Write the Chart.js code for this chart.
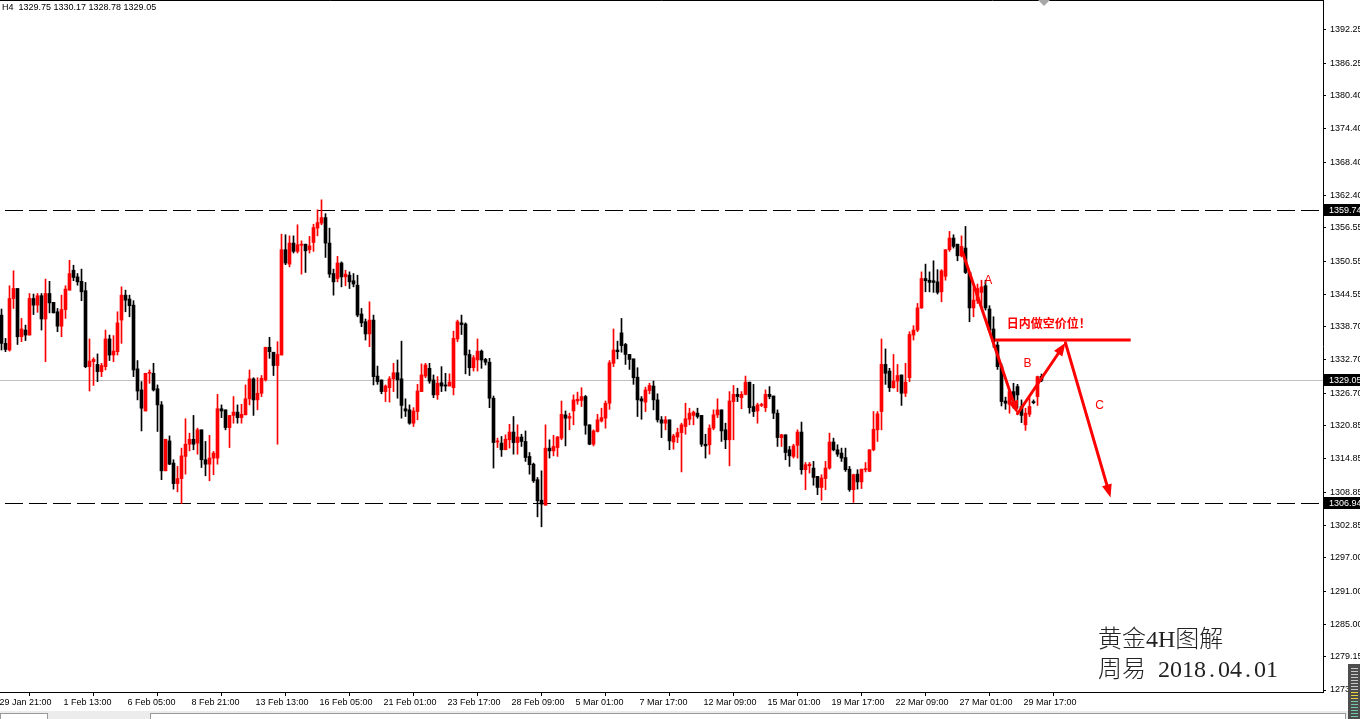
<!DOCTYPE html>
<html>
<head>
<meta charset="utf-8">
<script src="https://cdn.jsdelivr.net/npm/chart.js@4.4.1/dist/chart.umd.min.js"></script>
<style>
  html, body { margin: 0; padding: 0; background: #fff; overflow: hidden; }
  #wrap { width: 1360px; height: 719px; position: relative; }
</style>
</head>
<body>
<div id="wrap"><canvas id="chart"></canvas></div>
<script>
// XAUUSD H4, one value per bar (bar 0 = leftmost visible)
const opens = [
  1340.8,1335.7,1334.5,1343.8,1345.6,1336.9,1338.1,1337.2,1343.8,1342.6,1344.3,1340.1,1344.7,1343.1,1341.4,1338.8,1341.8,1345.3,1348.9,1347.7,
  1346.9,1345.2,1331.5,1332.4,1331.9,1330.6,1331.5,1336.5,1333.6,1334.2,1339.9,1344.4,1343.7,1342.6,1331.1,1327.3,1323.5,1330.3,1330.3,1327.5,
  1324.6,1312.7,1318.1,1314.1,1310.4,1311.3,1315.3,1317.5,1318.4,1317.7,1320.1,1314.7,1313.9,1315.0,1315.0,1323.9,1323.7,1320.5,1322.7,1323.3,
  1322.3,1322.8,1325.7,1329.3,1325.5,1326.7,1329.1,1335.0,1334.1,1331.7,1333.6,1352.6,1350.0,1353.8,1352.3,1353.4,1353.6,1352.6,1353.9,1356.5,
  1357.4,1358.4,1353.8,1348.3,1347.4,1350.2,1347.7,1348.0,1347.0,1346.2,1341.0,1339.6,1337.4,1339.9,1329.8,1329.1,1327.0,1327.7,1329.3,1330.4,
  1329.3,1323.9,1323.7,1321.3,1323.4,1327.0,1329.8,1331.2,1329.1,1326.4,1328.6,1328.2,1328.0,1327.7,1336.5,1339.4,1339.2,1333.7,1331.3,1332.7,
  1334.3,1332.8,1332.3,1325.8,1317.9,1317.7,1316.5,1318.3,1319.7,1317.8,1318.8,1318.0,1315.3,1313.9,1311.1,1307.4,1306.5,1316.8,1316.3,1316.9,
  1318.6,1322.8,1322.2,1323.5,1325.3,1325.4,1326.1,1321.0,1317.5,1319.8,1321.7,1322.2,1324.9,1332.1,1334.5,1337.6,1335.5,1333.7,1332.9,1329.6,
  1325.7,1325.1,1327.2,1328.0,1325.5,1321.9,1321.3,1321.9,1317.9,1318.8,1319.6,1320.7,1322.0,1322.7,1323.1,1322.7,1317.5,1317.4,1320.4,1322.8,
  1323.7,1320.1,1318.3,1325.2,1326.5,1325.9,1326.5,1328.7,1324.3,1323.5,1324.5,1324.1,1326.5,1326.2,1323.1,1318.7,1319.2,1316.5,1315.3,1317.3,
  1319.7,1312.9,1313.6,1313.2,1311.7,1309.7,1311.3,1313.2,1317.9,1316.5,1315.9,1315.1,1313.0,1309.3,1312.1,1310.7,1312.9,1312.6,1316.5,1320.1,
  1323.4,1331.9,1330.7,1327.7,1328.9,1330.0,1326.7,1329.5,1337.2,1338.1,1342.1,1347.4,1347.1,1347.0,1346.8,1345.0,1347.8,1352.6,1354.7,1353.6,
  1351.5,1352.9,1348.5,1342.1,1343.4,1344.9,1346.1,1341.9,1338.3,1335.4,1331.5,1325.3,1324.7,1327.0,1327.9,1324.3,1321.0,1322.9,1325.2,1326.1,
  1329.75
];
const highs = [
  1341.9,1336.6,1346.1,1348.8,1345.6,1340.2,1339.0,1344.7,1344.6,1344.7,1344.7,1347.3,1346.9,1343.1,1342.0,1344.4,1346.1,1350.7,1349.8,1348.3,
  1349.1,1346.7,1336.5,1333.1,1333.8,1332.1,1338.1,1337.2,1337.1,1341.4,1345.9,1345.3,1344.4,1343.4,1332.6,1328.8,1330.3,1330.9,1332.1,1328.2,
  1325.2,1318.4,1319.0,1314.7,1313.5,1316.8,1322.1,1319.5,1322.7,1320.4,1320.1,1318.0,1319.1,1316.2,1326.5,1324.6,1323.7,1322.7,1326.1,1324.6,
  1324.7,1328.2,1330.9,1329.5,1329.5,1329.9,1335.0,1336.8,1334.1,1336.0,1355.4,1355.3,1355.1,1355.1,1357.1,1354.2,1353.6,1355.0,1357.2,1359.8,
  1361.6,1359.1,1356.5,1349.1,1351.4,1350.4,1348.9,1348.6,1348.3,1348.0,1342.0,1340.1,1343.2,1340.8,1331.6,1329.1,1328.2,1329.7,1332.1,1332.7,
  1336.1,1325.7,1324.6,1324.1,1328.3,1332.0,1332.1,1332.1,1330.0,1329.7,1331.5,1330.3,1330.2,1337.9,1339.9,1340.8,1339.4,1334.5,1333.5,1336.5,
  1334.5,1333.0,1333.0,1326.2,1318.6,1318.9,1319.2,1321.1,1322.5,1321.0,1319.3,1319.9,1316.0,1314.1,1311.5,1312.7,1321.0,1318.3,1319.1,1318.9,
  1325.3,1323.5,1323.1,1326.4,1326.9,1327.7,1326.3,1321.0,1320.1,1322.9,1324.0,1325.3,1332.6,1338.3,1336.1,1340.2,1335.7,1333.7,1332.9,1331.3,
  1326.1,1327.8,1328.5,1328.9,1326.6,1322.5,1322.5,1321.9,1319.3,1320.4,1321.3,1324.9,1324.0,1323.5,1324.0,1322.7,1319.3,1321.0,1323.7,1325.7,
  1323.7,1321.3,1327.0,1328.1,1327.6,1327.0,1329.8,1328.7,1328.3,1324.9,1324.9,1327.3,1327.9,1326.2,1323.7,1319.3,1319.2,1317.1,1317.5,1320.1,
  1321.5,1314.2,1314.2,1314.4,1311.7,1312.0,1314.4,1319.5,1318.6,1317.4,1316.8,1316.8,1313.5,1312.1,1312.9,1313.0,1314.2,1316.5,1323.4,1323.4,
  1336.5,1334.7,1331.2,1333.7,1331.9,1330.0,1332.1,1337.8,1338.9,1342.9,1348.6,1350.0,1348.6,1350.6,1349.0,1349.0,1352.6,1355.9,1355.3,1353.6,
  1355.1,1356.8,1348.5,1345.9,1346.4,1347.1,1347.1,1342.5,1340.5,1336.0,1332.0,1326.0,1327.3,1328.5,1328.3,1325.5,1324.0,1326.0,1325.5,1329.8,
  1330.17
];
const lows = [
  1334.5,1334.2,1334.3,1342.0,1335.5,1336.0,1336.2,1337.2,1340.9,1341.3,1338.1,1332.4,1341.2,1341.2,1337.8,1336.9,1340.2,1345.3,1347.0,1346.2,
  1343.4,1331.3,1327.1,1328.1,1328.8,1329.7,1330.9,1332.6,1332.4,1333.6,1335.7,1341.4,1340.5,1329.7,1325.5,1319.9,1323.5,1328.5,1327.1,1319.8,
  1311.1,1312.7,1313.8,1309.4,1308.9,1306.8,1312.1,1316.3,1316.5,1315.7,1313.3,1311.8,1310.9,1312.0,1313.9,1322.3,1320.1,1316.9,1321.3,1321.3,
  1321.3,1322.8,1324.6,1322.7,1323.7,1326.1,1328.9,1333.0,1329.9,1317.5,1333.6,1349.9,1349.5,1352.0,1352.0,1348.2,1348.5,1352.0,1352.3,1355.1,
  1357.1,1351.2,1347.6,1344.4,1346.8,1345.9,1346.1,1345.6,1345.9,1340.5,1338.7,1336.3,1335.1,1328.2,1328.3,1326.6,1325.2,1325.1,1327.0,1325.8,
  1322.2,1322.5,1321.1,1320.7,1321.9,1327.0,1329.5,1328.5,1325.9,1325.6,1327.0,1327.1,1328.0,1326.4,1336.0,1337.3,1330.2,1329.9,1330.7,1330.7,
  1331.2,1331.8,1324.1,1313.2,1316.9,1315.3,1316.5,1316.8,1315.7,1315.7,1317.1,1314.4,1312.1,1310.6,1304.4,1302.6,1306.5,1315.0,1315.4,1315.3,
  1318.3,1317.2,1320.1,1321.0,1324.7,1324.3,1319.3,1317.4,1317.2,1319.7,1321.5,1320.4,1323.8,1331.5,1332.9,1334.1,1331.9,1331.0,1328.3,1322.5,
  1322.0,1323.4,1326.6,1323.7,1321.5,1318.7,1320.1,1316.5,1316.6,1317.8,1312.5,1319.3,1321.0,1321.0,1322.2,1317.1,1315.0,1315.7,1320.1,1322.3,
  1318.0,1316.7,1313.6,1318.3,1325.2,1323.9,1326.4,1323.1,1322.5,1321.3,1324.3,1323.4,1325.7,1322.1,1317.1,1317.1,1314.7,1313.5,1315.0,1315.0,
  1312.1,1309.3,1312.3,1310.1,1308.4,1307.4,1309.3,1313.0,1316.3,1315.3,1314.4,1312.6,1309.0,1307.0,1309.4,1309.5,1312.5,1312.6,1316.3,1318.0,
  1320.1,1328.3,1327.0,1327.6,1327.0,1324.5,1326.1,1328.8,1336.3,1337.8,1342.0,1345.0,1345.0,1344.9,1344.6,1343.2,1347.1,1352.3,1352.9,1350.6,
  1351.3,1348.3,1339.6,1340.5,1342.9,1342.3,1341.7,1337.8,1335.0,1331.0,1324.4,1323.8,1323.1,1324.0,1324.0,1321.4,1320.0,1322.5,1324.8,1324.5,
  1328.78
];
const closes = [
  1335.7,1334.6,1343.8,1345.6,1336.9,1338.3,1337.2,1343.8,1342.6,1344.3,1340.1,1344.7,1343.0,1341.2,1338.8,1341.8,1345.5,1348.3,1347.6,1346.8,
  1345.0,1331.5,1332.5,1332.8,1330.6,1331.7,1336.5,1333.6,1334.3,1339.4,1344.4,1343.5,1342.5,1330.9,1327.1,1324.0,1330.3,1330.4,1327.3,1324.6,
  1312.7,1318.4,1313.9,1310.4,1311.3,1315.4,1317.5,1318.4,1317.5,1320.1,1314.7,1313.9,1315.0,1315.9,1323.9,1323.5,1320.5,1322.7,1323.3,1322.3,
  1322.9,1325.7,1329.3,1325.5,1326.7,1329.4,1335.0,1334.2,1331.7,1333.7,1352.6,1350.2,1353.8,1352.3,1353.5,1353.6,1352.4,1353.3,1356.6,1357.5,
  1358.4,1353.8,1348.2,1346.8,1350.2,1347.7,1348.2,1346.8,1346.4,1340.8,1339.4,1337.4,1339.9,1329.7,1328.8,1327.0,1328.0,1329.3,1330.4,1329.1,
  1324.5,1323.5,1321.3,1323.5,1327.1,1330.0,1331.8,1328.9,1326.4,1328.5,1328.0,1328.0,1328.7,1336.6,1339.6,1339.1,1333.6,1331.3,1333.1,1334.3,
  1332.7,1332.3,1325.8,1317.8,1318.1,1316.5,1318.4,1319.7,1317.8,1318.8,1318.0,1315.1,1313.8,1310.9,1307.3,1306.7,1316.8,1316.3,1317.1,1318.8,
  1322.9,1322.2,1322.5,1325.5,1325.6,1326.1,1320.9,1317.5,1319.9,1321.9,1322.3,1324.9,1332.2,1334.5,1334.2,1335.3,1333.7,1332.8,1329.5,1325.5,
  1325.3,1327.3,1328.1,1325.5,1321.9,1321.3,1321.9,1318.1,1319.0,1319.6,1321.0,1322.1,1323.1,1323.3,1322.5,1317.5,1317.2,1320.4,1322.8,1323.7,
  1319.9,1318.3,1325.3,1326.5,1326.1,1326.5,1328.7,1324.1,1323.4,1324.6,1324.6,1326.5,1326.1,1323.1,1318.7,1319.2,1316.0,1315.4,1317.2,1319.7,
  1312.9,1313.8,1313.9,1311.5,1309.7,1311.4,1313.2,1317.9,1316.5,1315.7,1315.0,1312.9,1309.3,1312.0,1310.7,1313.0,1313.1,1316.5,1320.2,1323.0,
  1331.9,1330.3,1327.7,1328.9,1329.9,1326.7,1328.7,1337.3,1338.1,1342.1,1347.4,1347.0,1346.7,1346.7,1344.9,1348.8,1352.6,1354.7,1353.2,1351.5,
  1353.2,1348.5,1342.1,1343.5,1345.6,1345.9,1342.1,1338.1,1336.0,1331.5,1325.2,1324.9,1327.0,1325.0,1326.4,1322.7,1323.1,1324.3,1325.0,1329.7,
  1329.05
];

// time axis labels and the bar each one sits on
const tickLabels = ['29 Jan 21:00','1 Feb 13:00','6 Feb 05:00','8 Feb 21:00','13 Feb 13:00','16 Feb 05:00','21 Feb 01:00',
  '23 Feb 17:00','28 Feb 09:00','5 Mar 01:00','7 Mar 17:00','12 Mar 09:00','15 Mar 01:00','19 Mar 17:00','22 Mar 09:00',
  '27 Mar 01:00','29 Mar 17:00'];
const tickBars = [-1,15,31,47,63,79,95,111,127,143,159,175,191,207,223,239,255];

const priceTicks = [1392.25,1386.25,1380.40,1374.40,1368.40,1362.40,1356.55,1350.55,1344.55,1338.70,1332.70,
  1326.70,1320.85,1314.85,1308.85,1302.85,1297.00,1291.00,1285.00,1279.15,1273.15];
const levelLines = [1359.74, 1306.94];
const lastPrice = 1329.05;
const headerText = 'H4  1329.75 1330.17 1328.78 1329.05';

// A-B-C drawing: bar index / price of each turn
const waveBars = [240.25, 254.0, 266.0, 277.25];
const wavePrices = [1352.2, 1323.0, 1335.8, 1307.9];
const shortPrice = 1336.3;
const shortBars = [248.3, 282.3];
const waveLetters = ['A', 'B', 'C'];
const waveLetterBars = [246.7, 256.5, 274.5];
const waveLetterPrices = [1347.0, 1332.0, 1324.5];

const upColor = '#ff0000';
const downColor = '#000000';
const colors = opens.map((o, i) => closes[i] >= o ? upColor : downColor);

const wickData = opens.map((o, i) => ({ x: i, y: [lows[i], highs[i]] }));
const bodyData = opens.map((o, i) => ({ x: i, y: [o, closes[i]] }));

function arrow(ctx, x0, y0, x1, y1) {
  const ang = Math.atan2(y1 - y0, x1 - x0);
  const len = 13, half = 5;
  ctx.beginPath();
  ctx.moveTo(x0, y0);
  ctx.lineTo(x1 - Math.cos(ang) * len * 0.6, y1 - Math.sin(ang) * len * 0.6);
  ctx.stroke();
  ctx.beginPath();
  ctx.moveTo(x1, y1);
  ctx.lineTo(x1 - Math.cos(ang) * len - Math.sin(ang) * half, y1 - Math.sin(ang) * len + Math.cos(ang) * half);
  ctx.lineTo(x1 - Math.cos(ang) * len + Math.sin(ang) * half, y1 - Math.sin(ang) * len - Math.cos(ang) * half);
  ctx.closePath();
  ctx.fill();
}

const overlay = {
  id: 'overlay',
  beforeDatasetsDraw(chart) {
    const { ctx, chartArea: a, scales: { x, y } } = chart;
    ctx.save();
    const py = Math.round(y.getPixelForValue(lastPrice)) + 0.5;
    ctx.strokeStyle = '#c0c0c0';
    ctx.lineWidth = 1;
    ctx.beginPath(); ctx.moveTo(a.left, py); ctx.lineTo(a.right, py); ctx.stroke();

    ctx.strokeStyle = '#000';
    ctx.setLineDash([18, 6]);
    levelLines.forEach(v => {
      const ly = Math.round(y.getPixelForValue(v)) + 0.5;
      ctx.beginPath(); ctx.moveTo(a.left + 5, ly); ctx.lineTo(a.right - 3, ly); ctx.stroke();
    });
    ctx.restore();
  },
  afterDatasetsDraw(chart) {
    const { ctx, scales: { x, y } } = chart;
    ctx.save();
    ctx.strokeStyle = '#ff0000';
    ctx.fillStyle = '#ff0000';
    ctx.lineWidth = 3;
    ctx.lineCap = 'round';
    const pts = waveBars.map((b, i) => [x.getPixelForValue(b), y.getPixelForValue(wavePrices[i])]);
    for (let i = 0; i < pts.length - 1; i++) arrow(ctx, pts[i][0], pts[i][1], pts[i + 1][0], pts[i + 1][1]);

    const sy = y.getPixelForValue(shortPrice);
    ctx.lineCap = 'butt';
    ctx.beginPath();
    ctx.moveTo(x.getPixelForValue(shortBars[0]), sy);
    ctx.lineTo(x.getPixelForValue(shortBars[1]), sy);
    ctx.stroke();

    ctx.font = 'bold 12px "Noto Sans CJK SC"';
    ctx.textBaseline = 'middle';
    ctx.textAlign = 'left';
    ctx.fillText('日内做空价位！', x.getPixelForValue(251.3), sy - 17);

    ctx.font = '12px "Liberation Sans"';
    ctx.textAlign = 'center';
    waveLetters.forEach((t, i) => {
      ctx.fillText(t, x.getPixelForValue(waveLetterBars[i]), y.getPixelForValue(waveLetterPrices[i]));
    });
    ctx.restore();
  },
  afterDraw(chart) {
    const { ctx, chartArea: a, scales: { y } } = chart;
    ctx.save();
    // top frame
    ctx.strokeStyle = '#000';
    ctx.lineWidth = 1;
    ctx.beginPath(); ctx.moveTo(0, 0.5); ctx.lineTo(a.right + 0.5, 0.5); ctx.stroke();

    // boxed price labels on the axis
    ctx.font = '9px "Liberation Sans"';
    ctx.textBaseline = 'middle';
    ctx.textAlign = 'left';
    [...levelLines, lastPrice].forEach(v => {
      const py = Math.round(y.getPixelForValue(v));
      ctx.fillStyle = '#000';
      ctx.fillRect(a.right + 1, py - 6, 40, 12);
      ctx.fillStyle = '#fff';
      ctx.fillText(v.toFixed(2), a.right + 6, py + 0.5);
    });

    // header
    ctx.fillStyle = '#000';
    ctx.textBaseline = 'top';
    ctx.fillText(headerText, 2, 3);

    // shift marker
    ctx.fillStyle = '#a8a8a8';
    ctx.beginPath(); ctx.moveTo(1038, 0); ctx.lineTo(1050, 0); ctx.lineTo(1044, 6); ctx.closePath(); ctx.fill();

    // caption
    ctx.fillStyle = '#222';
    ctx.textBaseline = 'alphabetic';
    ctx.font = '300 24px "Liberation Serif", "Noto Sans CJK SC"';
    ctx.fillText('黄金4H图解', 1098, 647);
    ctx.fillText('周易', 1098, 677);
    const d = '2018.04.01';
    ctx.textAlign = 'center';
    for (let i = 0; i < d.length; i++) ctx.fillText(d[i], 1164 + i * 12, 677);

    // tab strip
    ctx.textAlign = 'left';
    ctx.fillStyle = '#ececec';
    ctx.fillRect(0, 711, 1360, 8);
    ctx.fillStyle = '#fff';
    ctx.strokeStyle = '#9a9a9a';
    ctx.fillRect(0, 713, 47, 6); ctx.strokeRect(0.5, 713.5, 47, 7);
    ctx.fillRect(150, 713, 1195, 6); ctx.strokeRect(150.5, 713.5, 1195, 7);

    // corner widget
    ctx.fillStyle = '#4d4d4d';
    ctx.fillRect(1348, 664, 12, 55);
    for (let yy = 668; yy < 717; yy += 3) {
      ctx.fillStyle = yy < 690 ? '#c8c8c8' : (yy < 700 ? '#e8d040' : '#70c8a8');
      ctx.fillRect(1351, yy, 7, 1);
    }
    ctx.restore();
  }
};

Chart.defaults.font.family = '"Liberation Sans", Arial, sans-serif';
Chart.defaults.font.size = 9;
Chart.defaults.color = '#000';

new Chart(document.getElementById('chart'), {
  type: 'bar',
  data: {
    datasets: [
      {
        label: 'wick',
        data: wickData,
        backgroundColor: colors,
        barThickness: 1,
        grouped: false,
        order: 1
      },
      {
        label: 'body',
        data: bodyData,
        backgroundColor: colors,
        barThickness: 3,
        minBarLength: 1,
        grouped: false,
        order: 0
      }
    ]
  },
  options: {
    responsive: true,
    maintainAspectRatio: false,
    animation: false,
    devicePixelRatio: 1,
    layout: { padding: { left: 0, right: 0, top: 0, bottom: 7 } },
    plugins: { legend: { display: false }, tooltip: { enabled: false } },
    scales: {
      x: {
        type: 'linear',
        min: -0.375,
        max: 330.375,
        offset: false,
        grid: { display: true, drawOnChartArea: false, drawTicks: true, tickLength: 4, color: '#000' },
        border: { display: true, color: '#000' },
        ticks: {
          align: 'start',
          labelOffset: 2,
          padding: 1,
          maxRotation: 0,
          autoSkip: false,
          callback: (v, i) => tickLabels[i]
        },
        afterBuildTicks: s => { s.ticks = tickBars.map(v => ({ value: v })); },
        afterFit: s => { s.height = 20; s.paddingLeft = 0; s.paddingRight = 0; }
      },
      y: {
        position: 'right',
        min: 1272.79,
        max: 1397.66,
        grid: { display: true, drawOnChartArea: false, drawTicks: true, tickLength: 3, color: '#000' },
        border: { display: true, color: '#000' },
        ticks: {
          padding: 4,
          autoSkip: false,
          callback: v => v.toFixed(2)
        },
        afterBuildTicks: s => { s.ticks = priceTicks.map(v => ({ value: v })); },
        afterFit: s => { s.width = 37; s.paddingTop = 0; s.paddingBottom = 0; }
      }
    }
  },
  plugins: [overlay]
});
</script>
</body>
</html>
